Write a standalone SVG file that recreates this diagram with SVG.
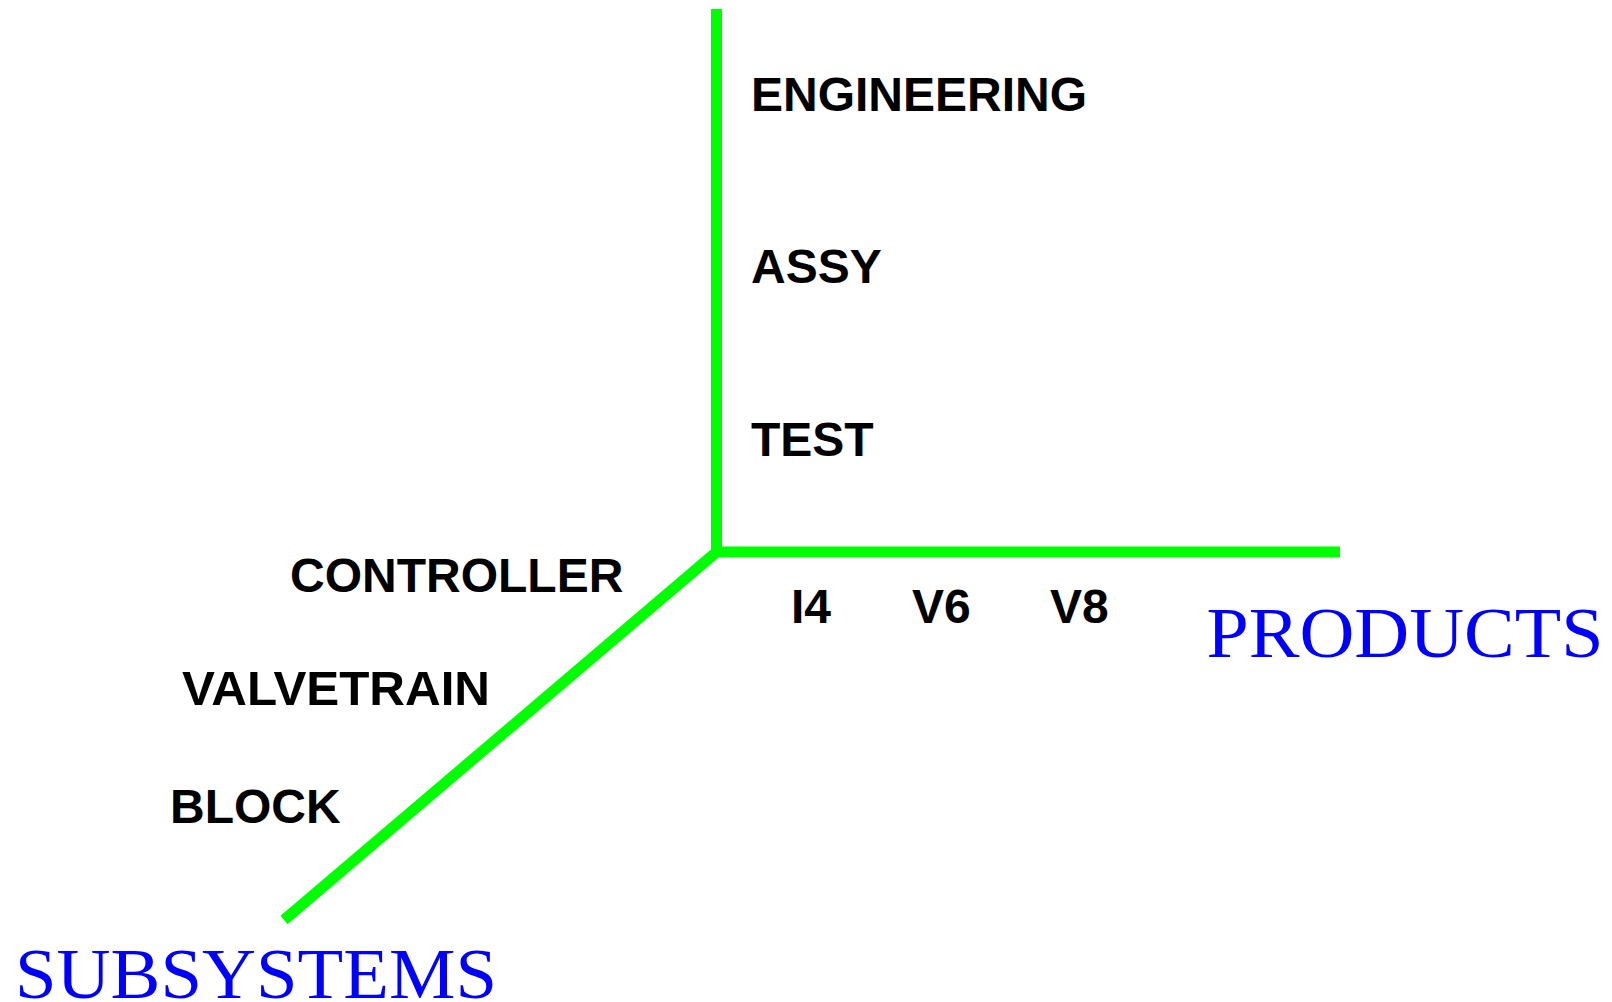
<svg xmlns="http://www.w3.org/2000/svg" width="1612" height="1002" viewBox="0 0 1612 1002">
<style>
.ax{fill:none;stroke:#00ff00;stroke-width:11;stroke-linecap:butt;stroke-linejoin:miter}
.lbl{font-family:"Liberation Sans",Arial,sans-serif;font-weight:bold;font-size:48px;fill:#000}
.title{font-family:"Liberation Serif","Times New Roman",serif;font-size:72px;fill:#0000ff}
</style>
<rect width="1612" height="1002" fill="#fff"/>
<g id="connectors">
<path class="ax" d="M716.5 9 V552 H1340"/>
<path class="ax" d="M716.5 552 L284 920"/>
</g>
<g id="engineering"><text class="lbl" x="751" y="111">ENGINEERING</text></g>
<g id="assy"><text class="lbl" x="751" y="283">ASSY</text></g>
<g id="test"><text class="lbl" x="751" y="456">TEST</text></g>
<g id="i4"><text class="lbl" x="791" y="623">I4</text></g>
<g id="v6"><text class="lbl" x="912" y="623">V6</text></g>
<g id="v8"><text class="lbl" x="1050" y="623">V8</text></g>
<g id="products"><text class="title" x="1206.5" y="657" textLength="397" lengthAdjust="spacingAndGlyphs">PRODUCTS</text></g>
<g id="controller"><text class="lbl" x="290" y="592">CONTROLLER</text></g>
<g id="valvetrain"><text class="lbl" x="182" y="705" textLength="308" lengthAdjust="spacingAndGlyphs">VALVETRAIN</text></g>
<g id="block"><text class="lbl" x="170" y="823">BLOCK</text></g>
<g id="subsystems"><text class="title" x="15" y="998" textLength="482" lengthAdjust="spacingAndGlyphs">SUBSYSTEMS</text></g>
</svg>
